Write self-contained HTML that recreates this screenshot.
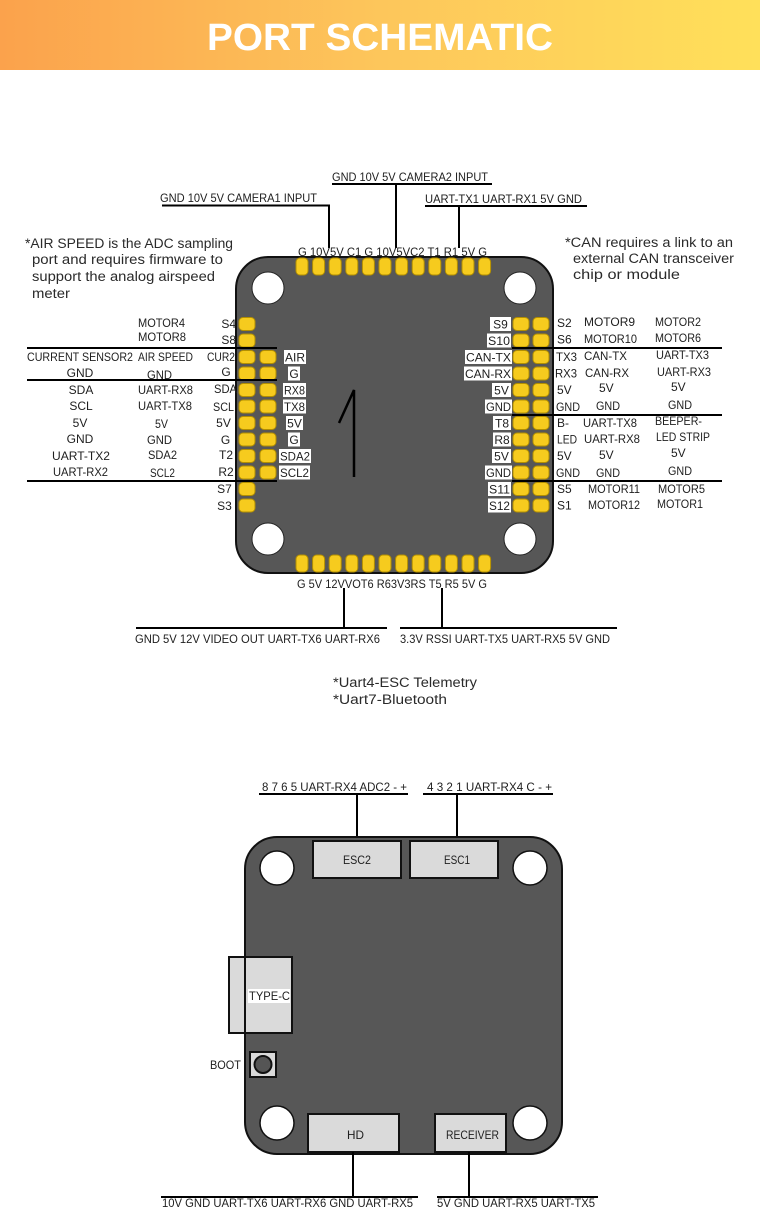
<!DOCTYPE html>
<html><head><meta charset="utf-8">
<style>
html,body{margin:0;padding:0;background:#fff;}
svg{display:block;}
.t{font-family:"Liberation Sans",sans-serif;font-size:12px;fill:#1e1e1e;}
.n{font-family:"Liberation Sans",sans-serif;font-size:13.5px;fill:#2a2a2a;}
.pad{fill:#F6CB1E;stroke:#B38F00;stroke-width:1;}
.ln{stroke:#000;stroke-width:2;fill:none;}
</style></head>
<body>
<svg width="760" height="1228" viewBox="0 0 760 1228" xmlns="http://www.w3.org/2000/svg">
<defs>
<linearGradient id="hg" x1="0" y1="0" x2="1" y2="0">
<stop offset="0" stop-color="#FBA24C"/>
<stop offset="0.5" stop-color="#FDC65B"/>
<stop offset="1" stop-color="#FFE05A"/>
</linearGradient>
</defs>
<rect x="0" y="0" width="760" height="70" fill="url(#hg)"/>
<text x="207" y="50" font-family="Liberation Sans, sans-serif" font-weight="bold" font-size="38" fill="#fff" textLength="346" lengthAdjust="spacingAndGlyphs">PORT SCHEMATIC</text>

<!-- top connector labels -->
<text class="t" x="160" y="202" textLength="157" lengthAdjust="spacingAndGlyphs">GND 10V 5V CAMERA1 INPUT</text>
<polyline class="ln" points="162,205.5 329,205.5 329,248"/>
<text class="t" x="332" y="181" textLength="156" lengthAdjust="spacingAndGlyphs">GND 10V 5V CAMERA2 INPUT</text>
<line class="ln" x1="332" y1="184" x2="492" y2="184"/>
<line class="ln" x1="396" y1="184" x2="396" y2="248"/>
<text class="t" x="425" y="203" textLength="157" lengthAdjust="spacingAndGlyphs">UART-TX1 UART-RX1 5V GND</text>
<line class="ln" x1="425" y1="206" x2="587" y2="206"/>
<line class="ln" x1="459" y1="206" x2="459" y2="248"/>

<!-- notes -->
<text class="n" x="25" y="248" textLength="208" lengthAdjust="spacingAndGlyphs">*AIR SPEED is the ADC sampling</text>
<text class="n" x="32" y="264" textLength="191" lengthAdjust="spacingAndGlyphs">port and requires firmware to</text>
<text class="n" x="32" y="281" textLength="183" lengthAdjust="spacingAndGlyphs">support the analog airspeed</text>
<text class="n" x="32" y="298" textLength="38" lengthAdjust="spacingAndGlyphs">meter</text>
<text class="n" x="565" y="247" textLength="168" lengthAdjust="spacingAndGlyphs">*CAN requires a link to an</text>
<text class="n" x="573" y="263" textLength="161" lengthAdjust="spacingAndGlyphs">external CAN transceiver</text>
<text class="n" x="573" y="279" textLength="107" lengthAdjust="spacingAndGlyphs">chip or module</text>

<!-- board 1 -->
<rect x="236" y="257" width="317" height="316" rx="32" ry="32" fill="#575757" stroke="#111" stroke-width="2"/>
<circle cx="268" cy="288" r="16" fill="#fff" stroke="#222" stroke-width="1"/>
<circle cx="520" cy="288" r="16" fill="#fff" stroke="#222" stroke-width="1"/>
<circle cx="268" cy="539" r="16" fill="#fff" stroke="#222" stroke-width="1"/>
<circle cx="520" cy="539" r="16" fill="#fff" stroke="#222" stroke-width="1"/>
<polyline points="339,423 354,390 354,477" fill="none" stroke="#000" stroke-width="2.5"/>

<!-- top pads -->
<g class="pad">
<rect x="296" y="258" width="12" height="17" rx="4"/>
<rect x="312.6" y="258" width="12" height="17" rx="4"/>
<rect x="329.2" y="258" width="12" height="17" rx="4"/>
<rect x="345.8" y="258" width="12" height="17" rx="4"/>
<rect x="362.4" y="258" width="12" height="17" rx="4"/>
<rect x="379" y="258" width="12" height="17" rx="4"/>
<rect x="395.6" y="258" width="12" height="17" rx="4"/>
<rect x="412.2" y="258" width="12" height="17" rx="4"/>
<rect x="428.8" y="258" width="12" height="17" rx="4"/>
<rect x="445.4" y="258" width="12" height="17" rx="4"/>
<rect x="462" y="258" width="12" height="17" rx="4"/>
<rect x="478.6" y="258" width="12" height="17" rx="4"/>
<!-- bottom pads -->
<rect x="296" y="555" width="12" height="17" rx="4"/>
<rect x="312.6" y="555" width="12" height="17" rx="4"/>
<rect x="329.2" y="555" width="12" height="17" rx="4"/>
<rect x="345.8" y="555" width="12" height="17" rx="4"/>
<rect x="362.4" y="555" width="12" height="17" rx="4"/>
<rect x="379" y="555" width="12" height="17" rx="4"/>
<rect x="395.6" y="555" width="12" height="17" rx="4"/>
<rect x="412.2" y="555" width="12" height="17" rx="4"/>
<rect x="428.8" y="555" width="12" height="17" rx="4"/>
<rect x="445.4" y="555" width="12" height="17" rx="4"/>
<rect x="462" y="555" width="12" height="17" rx="4"/>
<rect x="478.6" y="555" width="12" height="17" rx="4"/>
<!-- left pads col1 -->
<rect x="239" y="317.5" width="16" height="13" rx="4"/>
<rect x="239" y="334" width="16" height="13" rx="4"/>
<rect x="239" y="350.5" width="16" height="13" rx="4"/>
<rect x="239" y="367" width="16" height="13" rx="4"/>
<rect x="239" y="383.5" width="16" height="13" rx="4"/>
<rect x="239" y="400" width="16" height="13" rx="4"/>
<rect x="239" y="416.5" width="16" height="13" rx="4"/>
<rect x="239" y="433" width="16" height="13" rx="4"/>
<rect x="239" y="449.5" width="16" height="13" rx="4"/>
<rect x="239" y="466" width="16" height="13" rx="4"/>
<rect x="239" y="482.5" width="16" height="13" rx="4"/>
<rect x="239" y="499" width="16" height="13" rx="4"/>
<!-- left pads col2 -->
<rect x="260" y="350.5" width="16" height="13" rx="4"/>
<rect x="260" y="367" width="16" height="13" rx="4"/>
<rect x="260" y="383.5" width="16" height="13" rx="4"/>
<rect x="260" y="400" width="16" height="13" rx="4"/>
<rect x="260" y="416.5" width="16" height="13" rx="4"/>
<rect x="260" y="433" width="16" height="13" rx="4"/>
<rect x="260" y="449.5" width="16" height="13" rx="4"/>
<rect x="260" y="466" width="16" height="13" rx="4"/>
<!-- right pads col1 -->
<rect x="513" y="317.5" width="16" height="13" rx="4"/>
<rect x="513" y="334" width="16" height="13" rx="4"/>
<rect x="513" y="350.5" width="16" height="13" rx="4"/>
<rect x="513" y="367" width="16" height="13" rx="4"/>
<rect x="513" y="383.5" width="16" height="13" rx="4"/>
<rect x="513" y="400" width="16" height="13" rx="4"/>
<rect x="513" y="416.5" width="16" height="13" rx="4"/>
<rect x="513" y="433" width="16" height="13" rx="4"/>
<rect x="513" y="449.5" width="16" height="13" rx="4"/>
<rect x="513" y="466" width="16" height="13" rx="4"/>
<rect x="513" y="482.5" width="16" height="13" rx="4"/>
<rect x="513" y="499" width="16" height="13" rx="4"/>
<!-- right pads col2 -->
<rect x="533" y="317.5" width="16" height="13" rx="4"/>
<rect x="533" y="334" width="16" height="13" rx="4"/>
<rect x="533" y="350.5" width="16" height="13" rx="4"/>
<rect x="533" y="367" width="16" height="13" rx="4"/>
<rect x="533" y="383.5" width="16" height="13" rx="4"/>
<rect x="533" y="400" width="16" height="13" rx="4"/>
<rect x="533" y="416.5" width="16" height="13" rx="4"/>
<rect x="533" y="433" width="16" height="13" rx="4"/>
<rect x="533" y="449.5" width="16" height="13" rx="4"/>
<rect x="533" y="466" width="16" height="13" rx="4"/>
<rect x="533" y="482.5" width="16" height="13" rx="4"/>
<rect x="533" y="499" width="16" height="13" rx="4"/>
</g>

<!-- top/bottom pad labels -->
<text class="t" x="298" y="256" textLength="189" lengthAdjust="spacingAndGlyphs">G 10V5V C1  G 10V5VC2 T1 R1 5V G</text>
<text class="t" x="297" y="588" textLength="190" lengthAdjust="spacingAndGlyphs">G  5V 12VVOT6 R63V3RS T5 R5 5V G</text>

<!-- bottom connectors -->
<line class="ln" x1="344" y1="588" x2="344" y2="628"/>
<line class="ln" x1="136" y1="628" x2="387" y2="628"/>
<text class="t" x="135" y="643" textLength="245" lengthAdjust="spacingAndGlyphs">GND 5V 12V VIDEO OUT UART-TX6 UART-RX6</text>
<line class="ln" x1="442" y1="588" x2="442" y2="628"/>
<line class="ln" x1="400" y1="628" x2="617" y2="628"/>
<text class="t" x="400" y="643" textLength="210" lengthAdjust="spacingAndGlyphs">3.3V RSSI UART-TX5 UART-RX5 5V GND</text>

<!-- left side lines -->
<line class="ln" x1="27" y1="348" x2="277" y2="348"/>
<line class="ln" x1="27" y1="380" x2="277" y2="380"/>
<line class="ln" x1="27" y1="481" x2="277" y2="481"/>
<!-- right side lines -->
<line class="ln" x1="512" y1="348" x2="722" y2="348"/>
<line class="ln" x1="512" y1="415" x2="722" y2="415"/>
<line class="ln" x1="512" y1="481" x2="722" y2="481"/>

<!-- left column -->
<g class="t" text-anchor="middle">
<text x="80" y="361" textLength="106" lengthAdjust="spacingAndGlyphs">CURRENT SENSOR2</text>
<text x="80" y="377">GND</text>
<text x="81" y="394">SDA</text>
<text x="81" y="410">SCL</text>
<text x="80" y="427">5V</text>
<text x="80" y="443">GND</text>
<text x="81" y="460" textLength="58" lengthAdjust="spacingAndGlyphs">UART-TX2</text>
<text x="80.5" y="476" textLength="55" lengthAdjust="spacingAndGlyphs">UART-RX2</text>
</g>
<!-- middle column -->
<g class="t">
<text x="138" y="327" textLength="47" lengthAdjust="spacingAndGlyphs">MOTOR4</text>
<text x="138" y="341" textLength="48" lengthAdjust="spacingAndGlyphs">MOTOR8</text>
<text x="138" y="361" textLength="55" lengthAdjust="spacingAndGlyphs">AIR SPEED</text>
<text x="147" y="379" textLength="25" lengthAdjust="spacingAndGlyphs">GND</text>
<text x="138" y="394" textLength="55" lengthAdjust="spacingAndGlyphs">UART-RX8</text>
<text x="138" y="410" textLength="54" lengthAdjust="spacingAndGlyphs">UART-TX8</text>
<text x="155" y="428" textLength="13" lengthAdjust="spacingAndGlyphs">5V</text>
<text x="147" y="444" textLength="25" lengthAdjust="spacingAndGlyphs">GND</text>
<text x="148" y="459" textLength="29" lengthAdjust="spacingAndGlyphs">SDA2</text>
<text x="150" y="477" textLength="25" lengthAdjust="spacingAndGlyphs">SCL2</text>
</g>
<!-- left pad labels -->
<g class="t" text-anchor="end">
<text x="236" y="328">S4</text>
<text x="236" y="344">S8</text>
<text x="235" y="361" textLength="28" lengthAdjust="spacingAndGlyphs">CUR2</text>
<text x="237" y="393" textLength="23" lengthAdjust="spacingAndGlyphs">SDA</text>
<text x="234" y="411" textLength="21" lengthAdjust="spacingAndGlyphs">SCL</text>
</g>
<g class="t" text-anchor="middle">
<text x="226" y="376">G</text>
<text x="223.5" y="427">5V</text>
<text x="225.5" y="444">G</text>
<text x="226" y="459">T2</text>
<text x="226" y="476">R2</text>
<text x="224.5" y="493">S7</text>
<text x="224.5" y="510">S3</text>
</g>
<!-- left inner boxes -->
<g fill="#fff">
<rect x="284" y="350" width="22" height="14"/>
<rect x="288" y="366.5" width="12" height="14"/>
<rect x="283" y="383" width="23" height="14"/>
<rect x="283" y="399.5" width="23" height="14"/>
<rect x="286" y="416" width="17" height="14"/>
<rect x="288" y="432.5" width="12" height="14"/>
<rect x="279" y="449" width="32" height="14"/>
<rect x="279" y="465.5" width="31" height="14"/>
</g>
<g class="t" text-anchor="middle">
<text x="295" y="361.5" textLength="20" lengthAdjust="spacingAndGlyphs">AIR</text>
<text x="294" y="378">G</text>
<text x="294.5" y="394.5" textLength="21" lengthAdjust="spacingAndGlyphs">RX8</text>
<text x="294.5" y="411" textLength="21" lengthAdjust="spacingAndGlyphs">TX8</text>
<text x="294.5" y="427.5">5V</text>
<text x="294" y="444">G</text>
<text x="295" y="460.5" textLength="30" lengthAdjust="spacingAndGlyphs">SDA2</text>
<text x="294.5" y="477" textLength="29" lengthAdjust="spacingAndGlyphs">SCL2</text>
</g>
<!-- right inner boxes -->
<g fill="#fff">
<rect x="490" y="317" width="21" height="14"/>
<rect x="487" y="333.5" width="24" height="14"/>
<rect x="465" y="350" width="47" height="14"/>
<rect x="464" y="366.5" width="48" height="14"/>
<rect x="492" y="383" width="19" height="14"/>
<rect x="485" y="399.5" width="27" height="14"/>
<rect x="493" y="416" width="18" height="14"/>
<rect x="493" y="432.5" width="18" height="14"/>
<rect x="492" y="449" width="19" height="14"/>
<rect x="485" y="465.5" width="27" height="14"/>
<rect x="488" y="482" width="23" height="14"/>
<rect x="488" y="498.5" width="23" height="14"/>
</g>
<g class="t" text-anchor="middle">
<text x="500.5" y="328.5">S9</text>
<text x="499" y="345" textLength="22" lengthAdjust="spacingAndGlyphs">S10</text>
<text x="488.5" y="361.5" textLength="45" lengthAdjust="spacingAndGlyphs">CAN-TX</text>
<text x="488" y="378" textLength="46" lengthAdjust="spacingAndGlyphs">CAN-RX</text>
<text x="501.5" y="394.5">5V</text>
<text x="498.5" y="411" textLength="25" lengthAdjust="spacingAndGlyphs">GND</text>
<text x="502" y="427.5">T8</text>
<text x="502" y="444">R8</text>
<text x="501.5" y="460.5">5V</text>
<text x="498.5" y="477" textLength="25" lengthAdjust="spacingAndGlyphs">GND</text>
<text x="499.5" y="493.5" textLength="21" lengthAdjust="spacingAndGlyphs">S11</text>
<text x="499.5" y="510" textLength="21" lengthAdjust="spacingAndGlyphs">S12</text>
</g>
<!-- right col A -->
<g class="t">
<text x="557" y="327">S2</text>
<text x="557" y="343.5">S6</text>
<text x="556" y="361" textLength="21" lengthAdjust="spacingAndGlyphs">TX3</text>
<text x="555" y="377.5" textLength="22" lengthAdjust="spacingAndGlyphs">RX3</text>
<text x="557" y="394">5V</text>
<text x="556" y="411" textLength="24" lengthAdjust="spacingAndGlyphs">GND</text>
<text x="557" y="427">B-</text>
<text x="557" y="443.5" textLength="20" lengthAdjust="spacingAndGlyphs">LED</text>
<text x="557" y="460">5V</text>
<text x="556" y="477" textLength="24" lengthAdjust="spacingAndGlyphs">GND</text>
<text x="557" y="493">S5</text>
<text x="557" y="509.5">S1</text>
</g>
<!-- right col B -->
<g class="t">
<text x="584" y="326" textLength="51" lengthAdjust="spacingAndGlyphs">MOTOR9</text>
<text x="584" y="343" textLength="53" lengthAdjust="spacingAndGlyphs">MOTOR10</text>
<text x="584" y="360" textLength="43" lengthAdjust="spacingAndGlyphs">CAN-TX</text>
<text x="585" y="377" textLength="44" lengthAdjust="spacingAndGlyphs">CAN-RX</text>
<text x="599" y="392">5V</text>
<text x="596" y="410" textLength="24" lengthAdjust="spacingAndGlyphs">GND</text>
<text x="583" y="427" textLength="54" lengthAdjust="spacingAndGlyphs">UART-TX8</text>
<text x="584" y="443" textLength="56" lengthAdjust="spacingAndGlyphs">UART-RX8</text>
<text x="599" y="459">5V</text>
<text x="596" y="477" textLength="24" lengthAdjust="spacingAndGlyphs">GND</text>
<text x="588" y="493" textLength="52" lengthAdjust="spacingAndGlyphs">MOTOR11</text>
<text x="588" y="509" textLength="52" lengthAdjust="spacingAndGlyphs">MOTOR12</text>
</g>
<!-- right col C -->
<g class="t">
<text x="655" y="326" textLength="46" lengthAdjust="spacingAndGlyphs">MOTOR2</text>
<text x="655" y="342" textLength="46" lengthAdjust="spacingAndGlyphs">MOTOR6</text>
<text x="656" y="359" textLength="53" lengthAdjust="spacingAndGlyphs">UART-TX3</text>
<text x="657" y="376" textLength="54" lengthAdjust="spacingAndGlyphs">UART-RX3</text>
<text x="671" y="391">5V</text>
<text x="668" y="409" textLength="24" lengthAdjust="spacingAndGlyphs">GND</text>
<text x="655" y="425" textLength="47" lengthAdjust="spacingAndGlyphs">BEEPER-</text>
<text x="656" y="441" textLength="54" lengthAdjust="spacingAndGlyphs">LED STRIP</text>
<text x="671" y="457">5V</text>
<text x="668" y="475" textLength="24" lengthAdjust="spacingAndGlyphs">GND</text>
<text x="658" y="493" textLength="47" lengthAdjust="spacingAndGlyphs">MOTOR5</text>
<text x="657" y="508" textLength="46" lengthAdjust="spacingAndGlyphs">MOTOR1</text>
</g>

<!-- uart notes -->
<text class="n" x="333" y="687" textLength="144" lengthAdjust="spacingAndGlyphs">*Uart4-ESC Telemetry</text>
<text class="n" x="333" y="704" textLength="114" lengthAdjust="spacingAndGlyphs">*Uart7-Bluetooth</text>

<!-- board 2 top connectors -->
<text class="t" x="262" y="791" textLength="145" lengthAdjust="spacingAndGlyphs">8 7 6 5 UART-RX4 ADC2 - +</text>
<line class="ln" x1="259" y1="794" x2="408" y2="794"/>
<line class="ln" x1="357" y1="794" x2="357" y2="841"/>
<text class="t" x="427" y="791" textLength="125" lengthAdjust="spacingAndGlyphs">4 3 2 1 UART-RX4 C - +</text>
<line class="ln" x1="423" y1="794" x2="553" y2="794"/>
<line class="ln" x1="457" y1="794" x2="457" y2="841"/>

<!-- board 2 -->
<rect x="245" y="837" width="317" height="317" rx="32" ry="32" fill="#575757"/>
<circle cx="277" cy="868" r="17" fill="#fff" stroke="#111" stroke-width="1.5"/>
<circle cx="530" cy="868" r="17" fill="#fff" stroke="#111" stroke-width="1.5"/>
<circle cx="277" cy="1123" r="17" fill="#fff" stroke="#111" stroke-width="1.5"/>
<circle cx="530" cy="1123" r="17" fill="#fff" stroke="#111" stroke-width="1.5"/>
<rect x="313" y="841" width="88" height="37" fill="#dadada" stroke="#111" stroke-width="2"/>
<rect x="410" y="841" width="88" height="37" fill="#dadada" stroke="#111" stroke-width="2"/>
<rect x="229" y="957" width="63" height="76" fill="#dadada" stroke="#111" stroke-width="2"/>
<rect x="308" y="1114" width="91" height="38" fill="#dadada" stroke="#111" stroke-width="2"/>
<rect x="435" y="1114" width="71" height="38" fill="#dadada" stroke="#111" stroke-width="2"/>
<rect x="250" y="1052" width="26" height="25" fill="#dadada" stroke="#111" stroke-width="2"/>
<circle cx="263" cy="1064.5" r="8.5" fill="#555" stroke="#111" stroke-width="2"/>
<rect x="245" y="837" width="317" height="317" rx="32" ry="32" fill="none" stroke="#111" stroke-width="2"/>
<rect x="248" y="989" width="42" height="14" fill="#fff"/>
<g class="t" font-size="11">
<text x="343" y="864" textLength="28" lengthAdjust="spacingAndGlyphs">ESC2</text>
<text x="444" y="864" textLength="26" lengthAdjust="spacingAndGlyphs">ESC1</text>
<text x="249" y="1000" textLength="41" lengthAdjust="spacingAndGlyphs">TYPE-C</text>
<text x="210" y="1069" textLength="31" lengthAdjust="spacingAndGlyphs">BOOT</text>
<text x="347" y="1139" textLength="17" lengthAdjust="spacingAndGlyphs">HD</text>
<text x="446" y="1139" textLength="53" lengthAdjust="spacingAndGlyphs">RECEIVER</text>
</g>

<!-- board 2 bottom connectors -->
<line class="ln" x1="353" y1="1152" x2="353" y2="1197"/>
<line class="ln" x1="161" y1="1197" x2="418" y2="1197"/>
<text class="t" x="162" y="1207" textLength="251" lengthAdjust="spacingAndGlyphs">10V GND UART-TX6 UART-RX6 GND UART-RX5</text>
<line class="ln" x1="469" y1="1152" x2="469" y2="1197"/>
<line class="ln" x1="437" y1="1197" x2="598" y2="1197"/>
<text class="t" x="437" y="1207" textLength="158" lengthAdjust="spacingAndGlyphs">5V GND UART-RX5 UART-TX5</text>
</svg>
</body></html>
